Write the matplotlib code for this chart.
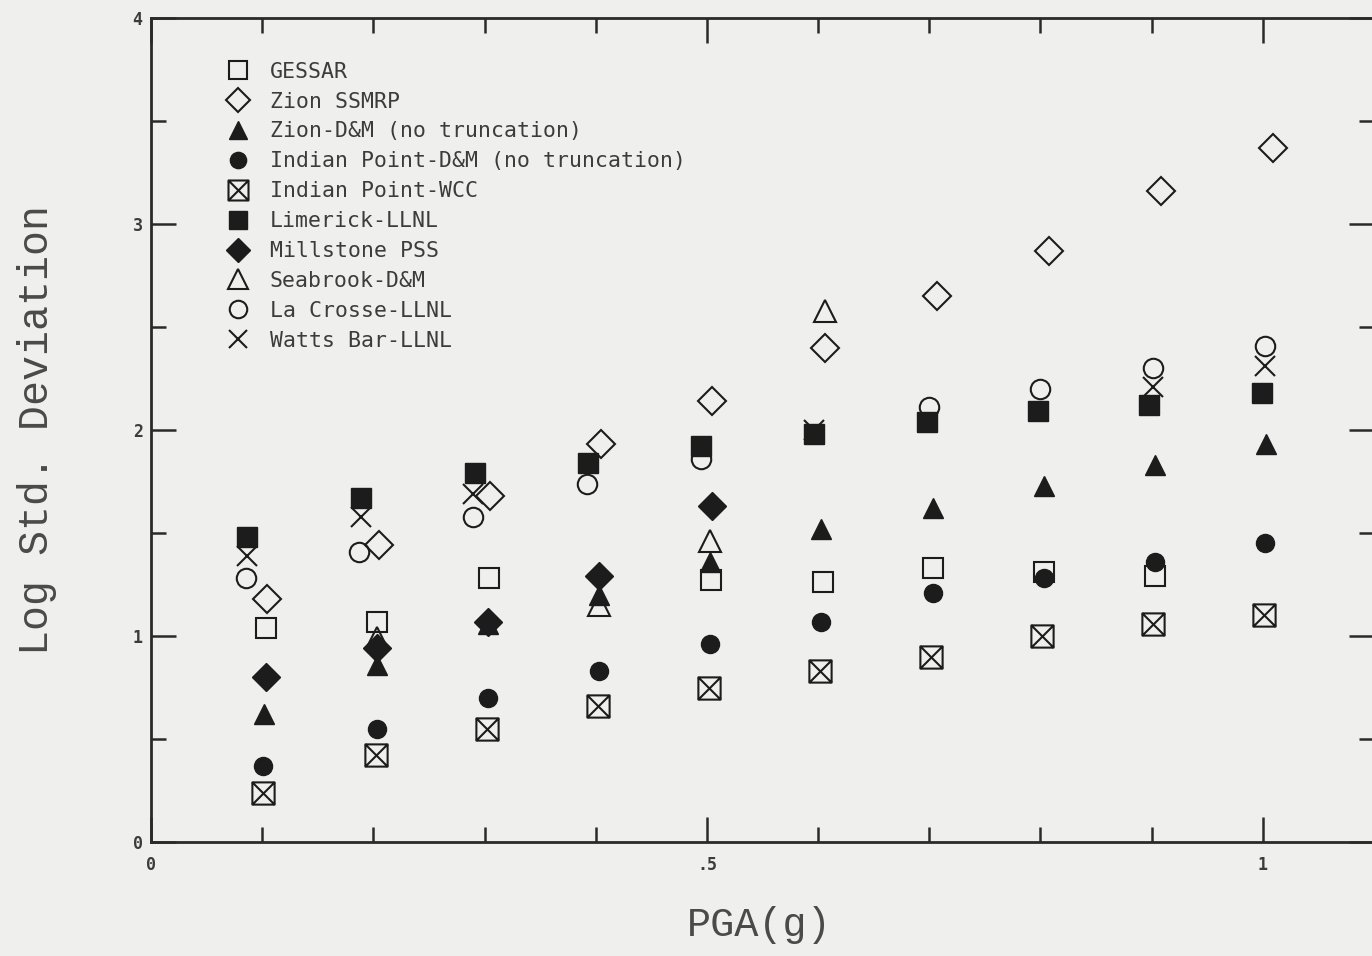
import matplotlib
matplotlib.use("Agg")
import matplotlib.pyplot as plt
from matplotlib.path import Path
from matplotlib.ticker import FixedLocator

# ---------------- data ----------------
gessar_x = [0.103, 0.203, 0.304, 0.504, 0.604, 0.703, 0.803, 0.903]
gessar_y = [1.04, 1.07, 1.28, 1.27, 1.26, 1.33, 1.31, 1.29]

zion_ssmrp_x = [0.104, 0.205, 0.305, 0.405, 0.505, 0.606, 0.707, 0.808, 0.908, 1.009]
zion_ssmrp_y = [1.18, 1.44, 1.68, 1.93, 2.14, 2.40, 2.65, 2.87, 3.16, 3.37]

zion_dm_x = [0.102, 0.203, 0.303, 0.403, 0.503, 0.603, 0.703, 0.803, 0.903, 1.003]
zion_dm_y = [0.62, 0.86, 1.06, 1.20, 1.36, 1.52, 1.62, 1.73, 1.83, 1.93]

ip_dm_x = [0.101, 0.203, 0.303, 0.403, 0.503, 0.603, 0.703, 0.803, 0.903, 1.002]
ip_dm_y = [0.37, 0.55, 0.70, 0.83, 0.96, 1.07, 1.21, 1.28, 1.36, 1.45]

ip_wcc_x = [0.101, 0.202, 0.302, 0.402, 0.502, 0.602, 0.702, 0.801, 0.901, 1.001]
ip_wcc_y = [0.24, 0.42, 0.55, 0.66, 0.75, 0.83, 0.90, 1.00, 1.06, 1.10]

limerick_x = [0.086, 0.189, 0.291, 0.393, 0.495, 0.596, 0.698, 0.798, 0.898, 0.999]
limerick_y = [1.48, 1.67, 1.79, 1.84, 1.92, 1.98, 2.04, 2.09, 2.12, 2.18]

millstone_x = [0.103, 0.203, 0.303, 0.403, 0.505]
millstone_y = [0.80, 0.94, 1.07, 1.29, 1.63]

seabrook_x = [0.203, 0.403, 0.503, 0.606]
seabrook_y = [0.99, 1.15, 1.46, 2.58]

lacrosse_x = [0.085, 0.187, 0.290, 0.392, 0.495, 0.700, 0.800, 0.901, 1.002]
lacrosse_y = [1.28, 1.41, 1.58, 1.74, 1.86, 2.11, 2.20, 2.30, 2.41]

wattsbar_x = [0.086, 0.189, 0.290, 0.596, 0.901, 1.002]
wattsbar_y = [1.39, 1.58, 1.69, 2.00, 2.21, 2.31]

labels = ["GESSAR", "Zion SSMRP", "Zion-D&M (no truncation)",
          "Indian Point-D&M (no truncation)", "Indian Point-WCC",
          "Limerick-LLNL", "Millstone PSS", "Seabrook-D&M",
          "La Crosse-LLNL", "Watts Bar-LLNL"]

x_major = [0, 0.5, 1.0]
x_major_labels = ["0", ".5", "1"]
x_minor = [0.1, 0.2, 0.3, 0.4, 0.6, 0.7, 0.8, 0.9]
y_major = [0, 1, 2, 3, 4]
y_major_labels = ["0", "1", "2", "3", "4"]
y_minor = [0.5, 1.5, 2.5, 3.5]

# ---------------- style ----------------
BG = "#efefed"
INK = "#1c1c1c"
TXT = "#3c3c3c"
MONO = ["DejaVu Sans Mono"]
THIN = ["Liberation Mono", "DejaVu Sans Mono"]

# boxed-X marker for Indian Point-WCC
boxx = Path([(-1, -1), (1, -1), (1, 1), (-1, 1), (-1, -1),
             (-1, -1), (1, 1), (-1, 1), (1, -1)],
            [Path.MOVETO, Path.LINETO, Path.LINETO, Path.LINETO, Path.CLOSEPOLY,
             Path.MOVETO, Path.LINETO, Path.MOVETO, Path.LINETO])

fig = plt.figure(figsize=(13.72, 9.56), dpi=100, facecolor=BG)
ax = fig.add_axes([151 / 1372, 1 - 842 / 956, 1223 / 1372, 824 / 956])
ax.set_facecolor(BG)

open_kw = dict(linestyle="none", markerfacecolor="none", markeredgecolor=INK,
               markeredgewidth=1.5)
fill_kw = dict(linestyle="none", color=INK, markeredgecolor=INK)

ax.plot(gessar_x, gessar_y, marker="s", markersize=15, label=labels[0], **open_kw)
ax.plot(zion_ssmrp_x, zion_ssmrp_y, marker="D", markersize=14, label=labels[1], **open_kw)
ax.plot(zion_dm_x, zion_dm_y, marker="^", markersize=15, label=labels[2], **fill_kw)
ax.plot(ip_dm_x, ip_dm_y, marker="o", markersize=13, label=labels[3], **fill_kw)
ax.plot(ip_wcc_x, ip_wcc_y, marker=boxx, markersize=16, label=labels[4], **open_kw)
ax.plot(limerick_x, limerick_y, marker="s", markersize=15, label=labels[5], **fill_kw)
ax.plot(millstone_x, millstone_y, marker="D", markersize=14, label=labels[6], **fill_kw)
ax.plot(seabrook_x, seabrook_y, marker="^", markersize=16, label=labels[7], **open_kw)
ax.plot(lacrosse_x, lacrosse_y, marker="o", markersize=14, label=labels[8], **open_kw)
ax.plot(wattsbar_x, wattsbar_y, marker="x", markersize=14, label=labels[9], **open_kw)

ax.set_xlim(0, 1.1)
ax.set_ylim(0, 4)

for s in ax.spines.values():
    s.set_linewidth(2.0)
    s.set_color("#2a2a2a")

# ticks
ax.xaxis.set_major_locator(FixedLocator(x_major))
ax.xaxis.set_minor_locator(FixedLocator(x_minor))
ax.yaxis.set_major_locator(FixedLocator(y_major))
ax.yaxis.set_minor_locator(FixedLocator(y_minor))
ax.set_xticklabels(x_major_labels)
ax.set_yticklabels(y_major_labels)
ax.tick_params(which="both", direction="in", top=True, right=True,
               color="#2a2a2a", width=1.8, labelcolor=TXT)
ax.tick_params(which="major", length=18, labelsize=12, pad=6)
ax.tick_params(axis="x", which="major", pad=10)
ax.tick_params(which="minor", length=11)
for t in ax.get_xticklabels() + ax.get_yticklabels():
    t.set_fontfamily(MONO)
    t.set_fontweight("bold")

# axis labels
ax.set_xlabel("PGA(g)", fontsize=29, family=THIN, color="#4a4a4a")
ax.xaxis.set_label_coords(0.497, -0.078)
ax.set_ylabel("Log Std. Deviation", fontsize=30, family=THIN, color="#4a4a4a")
ax.yaxis.set_label_coords(-0.077, 0.5)

leg = ax.legend(loc="upper left", bbox_to_anchor=(0.062, 0.947), frameon=False,
                prop=dict(family=MONO, size=15.5), handlelength=1.05,
                handletextpad=0.95, labelspacing=0.46, borderpad=0,
                borderaxespad=0, markerscale=0.9)
for t in leg.get_texts():
    t.set_color(TXT)

fig.savefig("out.png", dpi=100, facecolor=BG)
